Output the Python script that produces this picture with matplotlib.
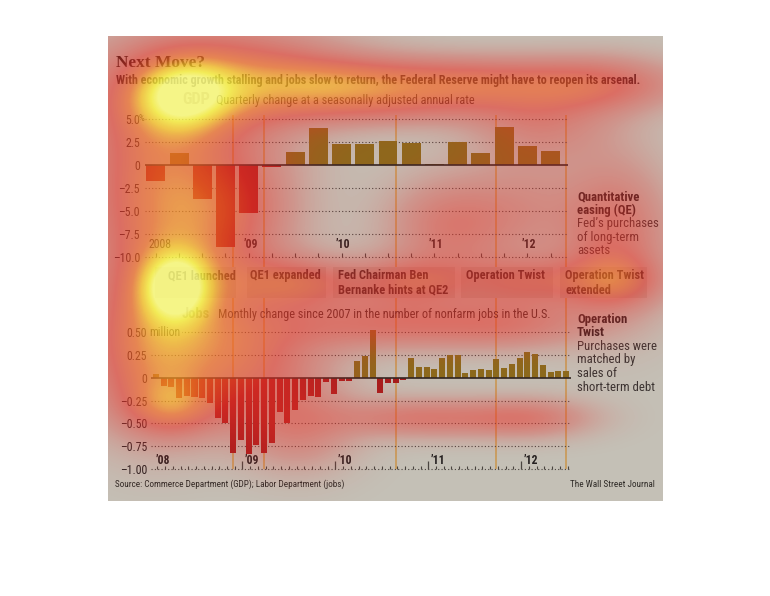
import numpy as np
import matplotlib
matplotlib.use("Agg")
import matplotlib.pyplot as plt
from matplotlib import font_manager
from matplotlib.colors import LinearSegmentedColormap
from matplotlib.patches import Rectangle

# ---- values ----
gdp_quarters = ["2008Q1", "2008Q2", "2008Q3", "2008Q4", "2009Q1", "2009Q2",
                "2009Q3", "2009Q4", "2010Q1", "2010Q2", "2010Q3", "2010Q4",
                "2011Q1", "2011Q2", "2011Q3", "2011Q4", "2012Q1", "2012Q2"]
gdp_change = [-1.8, 1.3, -3.7, -8.9, -5.3, -0.3, 1.4, 4.0, 2.3, 2.2,
              2.6, 2.4, 0.1, 2.5, 1.3, 4.1, 2.0, 1.5]

# monthly change in nonfarm jobs, millions, Jan 2008 .. Jun 2012
jobs_change = [0.04, -0.09, -0.10, -0.22, -0.20, -0.21, -0.22, -0.28, -0.44, -0.50, -0.82, -0.68,
               -0.83, -0.73, -0.82, -0.71, -0.37, -0.50, -0.35, -0.24, -0.20, -0.21, -0.05, -0.18,
               -0.04, -0.04, 0.18, 0.24, 0.52, -0.17, -0.06, -0.06, -0.03, 0.22, 0.12, 0.12,
               0.10, 0.22, 0.25, 0.25, 0.05, 0.08, 0.09, 0.08, 0.20, 0.11, 0.15, 0.22,
               0.28, 0.26, 0.14, 0.06, 0.07, 0.07]

gdp_yticks = [5, 2.5, 0, -2.5, -5, -7.5, -10]
gdp_ylabels = ["5.0", "2.5", "0", "\u20132.5", "\u20135.0", "\u20137.5", "\u201310.0"]
jobs_yticks = [0.5, 0.25, 0, -0.25, -0.5, -0.75, -1.0]
jobs_ylabels = ["0.50", "0.25", "0", "\u20130.25", "\u20130.50", "\u20130.75", "\u20131.00"]
gdp_years = ["2008", "\u201909", "\u201910", "\u201911", "\u201912"]
jobs_years = ["\u201908", "\u201909", "\u201910", "\u201911", "\u201912"]

event_months = ["2008-11", "2009-03", "2010-08", "2011-09", "2012-06"]
event_labels = ["QE1 launched", "QE1 expanded", "Fed Chairman Ben\nBernanke hints at QE2",
                "Operation Twist", "Operation Twist\nextended"]

# eye-tracking heat spots laid over the graphic (pixels from top-left)
heat_x = [182, 176, 182, 176, 240, 340, 470, 600, 380, 150, 230, 450, 615,
          300, 410, 525, 615, 150, 250, 172, 380, 510, 420, 530, 300, 540, 525]
heat_y = [96, 286, 96, 286, 70, 82, 82, 84, 108, 185, 205, 225, 235,
          282, 282, 282, 282, 360, 360, 408, 325, 325, 418, 418, 430, 125, 205]
heat_sx = [36, 25, 85, 58, 80, 70, 70, 60, 90, 50, 50, 45, 40,
           45, 45, 45, 35, 48, 55, 32, 70, 60, 60, 45, 40, 50, 40]
heat_sy = [26, 24, 45, 52, 35, 18, 18, 20, 15, 60, 48, 35, 55,
           18, 18, 18, 18, 52, 45, 20, 18, 18, 14, 14, 30, 25, 40]
heat_w = [0.5, 0.55, 0.28, 0.32, 0.33, 0.42, 0.42, 0.4, 0.25, 0.45, 0.38, 0.35, 0.4,
          0.38, 0.38, 0.35, 0.32, 0.48, 0.42, 0.32, 0.35, 0.32, 0.35, 0.32, 0.25, 0.25, 0.18]

# ---- fonts / colours ----
names = {f.name for f in font_manager.fontManager.ttflist}
COND = next((n for n in ["Roboto Condensed", "Liberation Sans Narrow", "Open Sans Condensed",
                         "Noto Sans", "Roboto"] if n in names), "DejaVu Sans")
SERIF = "Liberation Serif" if "Liberation Serif" in names else "DejaVu Serif"

PANEL = "#c4c0b6"
NEG = "#a31c1c"
POS = "#8b6a1c"
GRID = "#4a4540"
DARK = "#242020"
EVENT = "#c99a55"

W, H = 770, 596
fig = plt.figure(figsize=(W / 100, H / 100), dpi=100)
fig.patch.set_facecolor("white")

# month index -> pixel: x_px = X0 + XS * month
X0, XS = 155.8, 7.74


def px_axes(x0, y0, x1, y1, z):
    return fig.add_axes([x0 / W, 1 - y1 / H, (x1 - x0) / W, (y1 - y0) / H], zorder=z)


def month_index(s):
    y, m = s.split("-")
    return (int(y) - 2008) * 12 + int(m) - 1


def quarter_index(s):
    return (int(s[:4]) - 2008) * 12 + (int(s[-1]) - 1) * 3


bg = px_axes(0, 0, W, H, 0)
bg.set_xlim(0, W); bg.set_ylim(H, 0); bg.axis("off")
bg.add_patch(Rectangle((108, 36), 555, 465, color=PANEL, lw=0))

gx_lim = (-1.4, 53.2)
jx_lim = (-0.62, 53.7)

# event lines run through both panels
ev = px_axes(X0 + XS * gx_lim[0], 115, X0 + XS * gx_lim[1], 469.3, 1)
ev.set_xlim(gx_lim); ev.set_ylim(0, 1); ev.axis("off")
for m in event_months:
    ev.axvline(month_index(m), color=EVENT, lw=1.2)

# ---- GDP ----
ax1 = px_axes(X0 + XS * gx_lim[0], 115.0, X0 + XS * gx_lim[1], 256.7, 2)
ax1.set_facecolor("none")
gx = [quarter_index(q) for q in gdp_quarters]
ax1.bar(gx, gdp_change, width=2.45, color=[NEG if v < 0 else POS for v in gdp_change], zorder=3)
ax1.set_xlim(gx_lim); ax1.set_ylim(-10, 5.4)
for y in gdp_yticks:
    if y != 0:
        ax1.axhline(y, color=GRID, lw=0.8, ls=(0, (1, 2)), zorder=1, clip_on=False)
ax1.axhline(0, color="#2e2622", lw=1.2, zorder=4)
ax1.set_yticks(gdp_yticks, gdp_ylabels)
ax1.set_xticks(gx)
ax1.tick_params(axis="y", length=0, pad=3.6, labelsize=8.5, labelcolor=DARK)
ax1.tick_params(axis="x", direction="in", length=3, width=0.8, color=GRID, labelbottom=False)
for lbl in ax1.get_yticklabels():
    lbl.set_family(COND)
for s in ax1.spines.values():
    s.set_visible(False)
ax1.annotate("%", xy=(0, 5), xycoords=("axes fraction", "data"), xytext=(-4.5, 0),
             textcoords="offset points", ha="left", va="center", fontsize=6.5,
             family=COND, color=DARK)
for i, lab in enumerate(gdp_years):
    xx = gx_lim[0] + 0.4 if i == 0 else 12 * i - 0.7
    ax1.text(xx, -8.7, lab, ha="left", va="center", fontsize=8.5, family=COND,
             color=DARK, fontweight="bold" if i else "normal")

# ---- Jobs ----
ax2 = px_axes(X0 + XS * jx_lim[0], 326.4, X0 + XS * jx_lim[1], 469.3, 2)
ax2.set_facecolor("none")
jx = np.arange(len(jobs_change))
ax2.bar(jx, jobs_change, width=0.78, color=[NEG if v < 0 else POS for v in jobs_change], zorder=3)
ax2.set_xlim(jx_lim); ax2.set_ylim(-1.0, 0.56)
for y in jobs_yticks:
    if y != 0:
        ax2.axhline(y, color=GRID, lw=0.8, ls=(0, (1, 2)), zorder=1, clip_on=False)
ax2.axhline(0, color="#2e2622", lw=1.2, zorder=4)
ax2.set_yticks(jobs_yticks, jobs_ylabels)
ax2.tick_params(axis="y", length=0, pad=3.0, labelsize=8.5, labelcolor=DARK)
ax2.set_xticks([12 * i - 0.8 for i in range(1, 5)])
ax2.set_xticks(jx + 0.2, minor=True)
ax2.tick_params(axis="x", which="major", direction="in", length=6, width=0.9, color=GRID,
                labelbottom=False)
ax2.tick_params(axis="x", which="minor", direction="in", length=2.2, width=0.8, color=GRID)
for lbl in ax2.get_yticklabels():
    lbl.set_family(COND)
for s in ax2.spines.values():
    s.set_visible(False)
ax2.annotate("million", xy=(0, 0.5), xycoords=("axes fraction", "data"), xytext=(-1.5, -0.6),
             textcoords="offset points", ha="left", va="center", fontsize=8.5, family=COND,
             color=DARK, zorder=5,
             bbox=dict(boxstyle="square,pad=0.15", fc=PANEL, ec="none"))
for i, lab in enumerate(jobs_years):
    xx = 0 if i == 0 else 12 * i - 0.5
    ax2.text(xx, -0.9, lab, ha="left", va="center", fontsize=8.5, family=COND,
             color=DARK, fontweight="bold")

# ---- texts in pixel coordinates ----
tx = px_axes(0, 0, W, H, 3)
tx.set_xlim(0, W); tx.set_ylim(H, 0); tx.axis("off")

title = tx.text(116, 67, "Next Move?", family=SERIF, fontweight="bold", fontsize=12,
                color="#231a14", va="baseline")
sub = tx.text(116, 84, "With economic growth stalling and jobs slow to return, the Federal "
              "Reserve might have to reopen its arsenal.", family=COND, fontweight="bold",
              fontsize=9, color=DARK, va="baseline")
gdp_h = tx.text(182, 104, "GDP", family=COND, fontweight="bold", fontsize=11,
                color="#857b6c", va="baseline")
gdp_s = tx.text(216, 104, "Quarterly change at a seasonally adjusted annual rate",
                family=COND, fontsize=9, color="#2e2a26", va="baseline")
jobs_h = tx.text(182, 318, "Jobs", family=COND, fontweight="bold", fontsize=11,
                 color="#857b6c", va="baseline")
jobs_s = tx.text(218, 318, "Monthly change since 2007 in the number of nonfarm jobs in the U.S.",
                 family=COND, fontsize=9, color="#2e2a26", va="baseline")
src = tx.text(115, 487, "Source: Commerce Department (GDP); Labor Department (jobs)",
              family=COND, fontsize=7.5, color="#2e2a26", va="baseline")
wsj = tx.text(655, 487, "The Wall Street Journal", family=COND, fontsize=7.5,
              color="#2e2a26", va="baseline", ha="right")

# label band under the GDP panel
box_x = [(155, 236), (247, 326), (333, 455), (461, 553), (560, 647)]
text_x = [167.5, 250, 337.5, 466.5, 565]
band = []
for (b0, b1), tx0, lab in zip(box_x, text_x, event_labels):
    tx.add_patch(Rectangle((b0, 267), b1 - b0, 31, color="#b6b0a4", lw=0))
    band.append(tx.text(tx0, 269, lab, family=COND, fontweight="bold", fontsize=9,
                        color="#2b2422", va="top", linespacing=1.15))

notes = []
note_lines = [("Quantitative", True, 200), ("easing (QE)", True, 213.7),
              ("Fed\u2019s purchases", False, 227.5), ("of long-term", False, 241),
              ("assets", False, 254.5), ("Operation", True, 323), ("Twist", True, 336.5),
              ("Purchases were", False, 350), ("matched by", False, 363.5),
              ("sales of", False, 377), ("short-term debt", False, 391)]
for s, b, yy in note_lines:
    notes.append(tx.text(577, yy, s, family=COND, fontsize=9, va="baseline",
                         fontweight="bold" if b else "normal",
                         color=DARK if b else "#3a3432"))

# scale key texts to the widths measured on the reference
fig.canvas.draw()
r = fig.canvas.get_renderer()


def fit(t, target):
    w = t.get_window_extent(r).width
    t.set_fontsize(t.get_fontsize() * target / w)
    return t.get_fontsize()


fit(title, 88)
fit(sub, 527)
fit(gdp_h, 28)
fit(gdp_s, 260)
fit(jobs_h, 28)
fit(jobs_s, 332)
fit(src, 228)
fit(wsj, 84)
fs = fit(band[3], 78.5)
for t in band:
    t.set_fontsize(fs)
fs = fit(notes[10], 77.7)
for t in notes:
    t.set_fontsize(fs)

# ---- heat overlay ----
hx = px_axes(0, 0, W, H, 5)
hx.set_xlim(0, W); hx.set_ylim(H, 0); hx.axis("off")
yy, xx = np.mgrid[0:H, 0:W] + 0.5
heat = np.zeros((H, W))
for cx, cy, sx, sy, w in zip(heat_x, heat_y, heat_sx, heat_sy, heat_w):
    heat += w * np.exp(-((xx - cx) ** 2 / (2 * sx ** 2) + (yy - cy) ** 2 / (2 * sy ** 2)))
heat = np.clip(heat, 0, 1)
heat[(xx < 108) | (xx > 663) | (yy < 36) | (yy > 501)] = 0
cmap = LinearSegmentedColormap.from_list("heat", [
    (0.00, (0.92, 0.18, 0.16, 0.00)),
    (0.20, (0.92, 0.18, 0.16, 0.30)),
    (0.45, (0.93, 0.20, 0.16, 0.58)),
    (0.65, (0.97, 0.42, 0.14, 0.68)),
    (0.80, (1.00, 0.78, 0.15, 0.75)),
    (0.92, (1.00, 0.97, 0.25, 0.80)),
    (1.00, (1.00, 1.00, 0.50, 0.85))])
hx.imshow(heat, cmap=cmap, vmin=0, vmax=1, extent=(0, W, H, 0), interpolation="bilinear")
hx.set_xlim(0, W); hx.set_ylim(H, 0)

fig.savefig("out.png", dpi=100, facecolor="white")
